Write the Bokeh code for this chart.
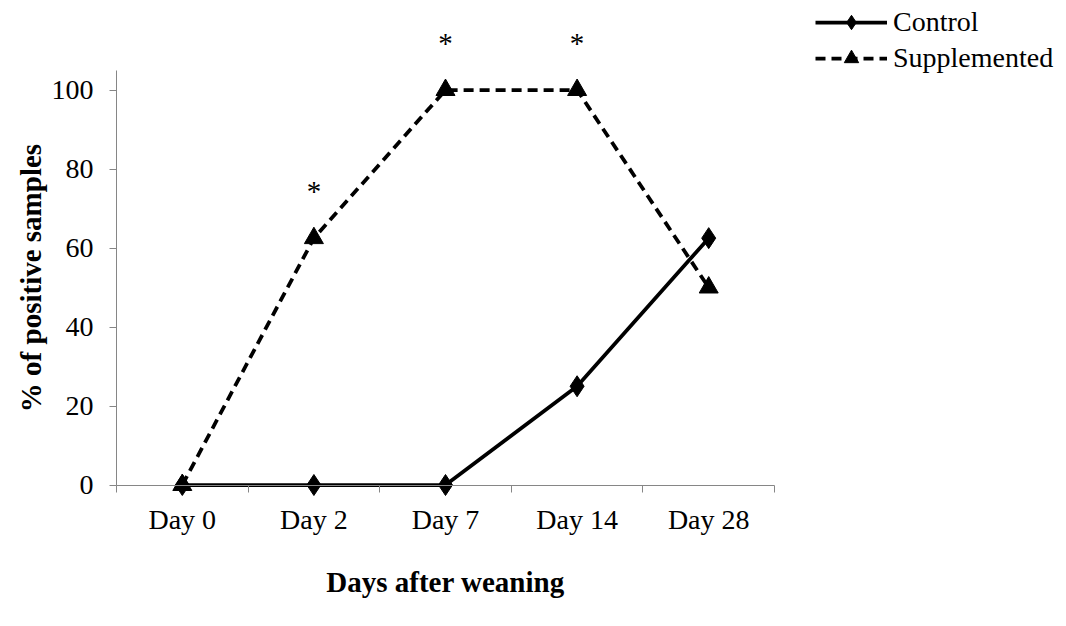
from bokeh.plotting import figure
from bokeh.models import Range1d, FixedTicker, Legend, LegendItem, LabelSet, ColumnDataSource
from bokeh.embed import file_html
from bokeh.resources import INLINE

# Share of positive samples after weaning (%)
days = ["Day 0", "Day 2", "Day 7", "Day 14", "Day 28"]
control = [0, 0, 0, 25, 62.5]
supplemented = [0, 62.5, 100, 100, 50]
sig_days = ["Day 2", "Day 7", "Day 14"]   # significant difference between groups
y_ticks = [0, 20, 40, 60, 80, 100]
y_top = 105

FONT = "Liberation Serif"
AXIS_GRAY = "#868686"

pos = list(range(len(days)))
sig_pos = [days.index(d) for d in sig_days]
sig_val = [supplemented[i] for i in sig_pos]

# the frame covers the whole canvas; axes sit at fixed data locations
p = figure(
    width=1066, height=626,
    x_range=Range1d(-1.3815, 6.7188),
    y_range=Range1d(-35.82, 122.66),
    min_border=0,
    output_backend="svg", toolbar_location=None,
)
p.outline_line_color = None
p.xgrid.visible = False
p.ygrid.visible = False
p.background_fill_color = "white"
p.border_fill_color = "white"

# category axis crossing at zero, tick marks between categories
xa = p.xaxis[0]
xa.fixed_location = 0
xa.bounds = (-0.5, len(days) - 0.5)
xa.ticker = FixedTicker(ticks=pos, minor_ticks=[i - 0.5 for i in range(len(days) + 1)])
xa.major_label_overrides = {i: d for i, d in enumerate(days)}
xa.major_tick_out = 0
xa.major_tick_in = 0
xa.minor_tick_out = 7
xa.minor_tick_in = 0
xa.minor_tick_line_color = AXIS_GRAY
xa.axis_line_color = AXIS_GRAY
xa.major_label_text_font = FONT
xa.major_label_text_font_size = "28px"
xa.major_label_text_color = "black"
xa.major_label_standoff = 12
xa.axis_label = "Days after weaning"
xa.axis_label_text_font = FONT
xa.axis_label_text_font_style = "bold"
xa.axis_label_text_font_size = "29px"
xa.axis_label_text_color = "black"
xa.axis_label_standoff = 27

ya = p.yaxis[0]
ya.fixed_location = -0.5
ya.bounds = (0, y_top)
ya.ticker = FixedTicker(ticks=y_ticks)
ya.major_tick_out = 7
ya.major_tick_in = 0
ya.minor_tick_out = 0
ya.minor_tick_in = 0
ya.major_tick_line_color = AXIS_GRAY
ya.axis_line_color = AXIS_GRAY
ya.major_label_text_font = FONT
ya.major_label_text_font_size = "28px"
ya.major_label_text_color = "black"
ya.major_label_standoff = 16
ya.axis_label = "% of positive samples"
ya.axis_label_text_font = FONT
ya.axis_label_text_font_style = "bold"
ya.axis_label_text_font_size = "29px"
ya.axis_label_text_color = "black"
ya.axis_label_standoff = 2

src = ColumnDataSource(dict(x=pos, control=control, supplemented=supplemented))

c_line = p.line("x", "control", source=src, line_color="black", line_width=3.75)
c_mark = p.scatter("x", "control", source=src, marker="diamond",
                   size=21, fill_color="black", line_color="black")
s_line = p.line("x", "supplemented", source=src, line_color="black", line_width=3.75,
                line_dash="10 6")
s_mark = p.scatter("x", "supplemented", source=src, marker="triangle",
                   size=19, fill_color="black", line_color="black")

stars = ColumnDataSource(dict(x=sig_pos, y=sig_val, t=["*"] * len(sig_pos)))
p.add_layout(LabelSet(x="x", y="y", text="t", source=stars, y_offset=37,
                      text_align="center", text_baseline="alphabetic",
                      text_font=FONT, text_font_size="29px", text_color="black"))

legend = Legend(
    items=[LegendItem(label="Control", renderers=[c_line, c_mark]),
           LegendItem(label="Supplemented", renderers=[s_line, s_mark])],
    location=(815, 550),
    glyph_width=72, glyph_height=36, label_height=36, label_standoff=6,
    spacing=0, padding=0, margin=0,
    border_line_color=None, background_fill_alpha=0,
    label_text_font=FONT, label_text_font_size="28px", label_text_color="black",
)
p.add_layout(legend, "center")

open("out.html", "w").write(file_html(p, INLINE))
